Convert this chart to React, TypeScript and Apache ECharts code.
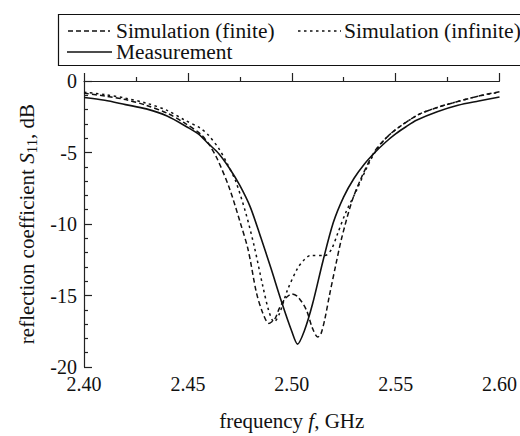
import React, { useEffect, useRef } from "react";
import * as echarts from "echarts";

const seriesNames = ["Simulation (finite)", "Simulation (infinite)", "Measurement"];

const finiteF = [2.4, 2.41, 2.42, 2.43, 2.44, 2.448, 2.456, 2.46, 2.464, 2.47, 2.475, 2.479, 2.483, 2.486, 2.489, 2.492, 2.494, 2.497, 2.5, 2.503, 2.507, 2.51, 2.5125, 2.514, 2.516, 2.518, 2.521, 2.524, 2.529, 2.534, 2.54, 2.545, 2.55, 2.561, 2.57, 2.577, 2.59, 2.6];
const finiteDb = [-0.85, -1.05, -1.3, -1.7, -2.25, -2.9, -3.7, -4.4, -5.4, -7.5, -9.8, -11.8, -14.8, -16.2, -16.95, -16.6, -15.9, -15.2, -14.9, -15.1, -16.0, -17.3, -17.9, -17.7, -16.6, -15.1, -13.0, -11.0, -8.4, -6.6, -4.9, -4.05, -3.4, -2.35, -1.85, -1.55, -1.05, -0.75];

const infiniteF = [2.4, 2.41, 2.42, 2.43, 2.44, 2.448, 2.456, 2.46, 2.465, 2.469, 2.473, 2.478, 2.482, 2.486, 2.489, 2.4915, 2.494, 2.498, 2.5028, 2.506, 2.509, 2.516, 2.519, 2.522, 2.526, 2.531, 2.536, 2.54, 2.545, 2.55, 2.561, 2.57, 2.577, 2.59, 2.6];
const infiniteDb = [-0.78, -0.95, -1.2, -1.55, -2.05, -2.7, -3.3, -3.8, -4.75, -5.8, -7.0, -9.3, -11.6, -14.3, -16.1, -16.85, -16.3, -14.6, -13.1, -12.5, -12.2, -12.2, -11.8, -10.7, -9.2, -7.7, -6.1, -5.0, -4.05, -3.4, -2.35, -1.85, -1.55, -1.05, -0.78];

const measF = [2.4, 2.41, 2.42, 2.43, 2.44, 2.45, 2.455, 2.46, 2.465, 2.47, 2.475, 2.48, 2.485, 2.49, 2.495, 2.5, 2.5028, 2.506, 2.51, 2.515, 2.52, 2.525, 2.53, 2.535, 2.54, 2.545, 2.55, 2.555, 2.56, 2.57, 2.58, 2.59, 2.6];
const measDb = [-1.15, -1.35, -1.65, -1.95, -2.45, -3.25, -3.7, -4.4, -5.1, -6.1, -7.3, -8.8, -10.9, -13.1, -15.4, -17.5, -18.4, -17.5, -15.6, -12.6, -9.9, -8.1, -6.8, -5.8, -5.0, -4.3, -3.7, -3.2, -2.75, -2.15, -1.7, -1.4, -1.12];

const xTicks = ["2.40", "2.45", "2.50", "2.55", "2.60"];

const FONT = "Liberation Serif";
const INK = "#111";
const DASH_FINITE = [5, 3];
const DASH_INFINITE = [2.5, 3.5];

function pairs(xs: number[], ys: number[]) {
  return xs.map((x, i) => [x, ys[i]]);
}

export default function App() {
  const ref = useRef<HTMLDivElement>(null);
  useEffect(() => {
    if (!ref.current) return;
    const chart = echarts.init(ref.current, undefined, { renderer: "svg" });
    const lineCommon = { type: "line", showSymbol: false, symbol: "none", smooth: 0.3 };
    const legendText = (x: number, y: number, text: string, sx: number) => ({
      type: "text",
      x,
      y,
      silent: true,
      scaleX: sx,
      style: { text, fontFamily: FONT, fontSize: 20, fill: INK, verticalAlign: "middle", align: "left" },
    });
    const legendLine = (x1: number, x2: number, y: number, dash: number[] | null) => ({
      type: "line",
      silent: true,
      shape: { x1, y1: y, x2, y2: y },
      style: { stroke: INK, lineWidth: 1.5, lineDash: dash ?? undefined },
    });
    chart.setOption({
      animation: false,
      backgroundColor: "#ffffff",
      grid: { left: 84, right: 19, top: 81, bottom: 64 },
      graphic: [
        {
          type: "rect",
          silent: true,
          shape: { x: 58.5, y: 14.5, width: 480, height: 51 },
          style: { fill: "none", stroke: INK, lineWidth: 1.2 },
        },
        legendLine(68, 110, 31, DASH_FINITE),
        legendText(116, 31, seriesNames[0], 1.07),
        legendLine(298, 341, 31, DASH_INFINITE),
        legendText(344, 31, seriesNames[1], 1.08),
        legendLine(67, 112, 52, null),
        legendText(116, 52, seriesNames[2], 1.07),
      ],
      xAxis: {
        type: "value",
        min: 2.4,
        max: 2.6,
        interval: 0.05,
        name: "frequency {i|f}, GHz",
        nameLocation: "middle",
        nameGap: 43,
        nameTextStyle: {
          fontFamily: FONT,
          fontSize: 21,
          color: INK,
          rich: { i: { fontFamily: FONT, fontSize: 21, fontStyle: "italic", color: INK } },
        },
        axisLine: { show: true, lineStyle: { color: "#222", width: 1.2 } },
        axisTick: { show: true, inside: true, length: 8, lineStyle: { color: "#222", width: 1.2 } },
        minorTick: { show: true, splitNumber: 2, length: 4, lineStyle: { color: "#222", width: 1.2 } },
        splitLine: { show: false },
        axisLabel: {
          fontFamily: FONT,
          fontSize: 20,
          lineHeight: 16,
          color: INK,
          margin: 9,
          formatter: (v: number) => {
            const idx = Math.round((v - 2.4) / 0.05);
            return xTicks[idx] ?? "";
          },
        },
      },
      yAxis: {
        type: "value",
        min: -20,
        max: 0,
        interval: 5,
        name: "reflection coefficient {i|S}{sub|11}, dB",
        nameLocation: "middle",
        nameRotate: 90,
        nameGap: 39,
        nameTextStyle: {
          fontFamily: FONT,
          fontSize: 21,
          color: INK,
          rich: {
            i: { fontFamily: FONT, fontSize: 21, fontStyle: "italic", color: INK },
            sub: { fontFamily: FONT, fontSize: 15, color: INK, padding: [10, 0, 0, 0] },
          },
        },
        axisLine: { show: true, lineStyle: { color: "#222", width: 1.2 } },
        axisTick: { show: true, inside: true, length: 8, lineStyle: { color: "#222", width: 1.2 } },
        minorTick: { show: true, splitNumber: 5, length: 4, lineStyle: { color: "#222", width: 1.2 } },
        splitLine: { show: false },
        axisLabel: { fontFamily: FONT, fontSize: 20, lineHeight: 15, color: INK, margin: 7 },
      },
      series: [
        {
          ...lineCommon,
          name: seriesNames[0],
          data: pairs(finiteF, finiteDb),
          lineStyle: { color: INK, width: 1.5, type: DASH_FINITE },
          itemStyle: { color: INK },
        },
        {
          ...lineCommon,
          name: seriesNames[1],
          data: pairs(infiniteF, infiniteDb),
          lineStyle: { color: INK, width: 1.5, type: DASH_INFINITE },
          itemStyle: { color: INK },
        },
        {
          ...lineCommon,
          name: seriesNames[2],
          data: pairs(measF, measDb),
          lineStyle: { color: INK, width: 1.6, type: "solid" },
          itemStyle: { color: INK },
        },
      ],
    });
    return () => chart.dispose();
  }, []);
  return <div ref={ref} style={{ width: 520, height: 436, position: "absolute", left: 0, top: 0 }} />;
}
